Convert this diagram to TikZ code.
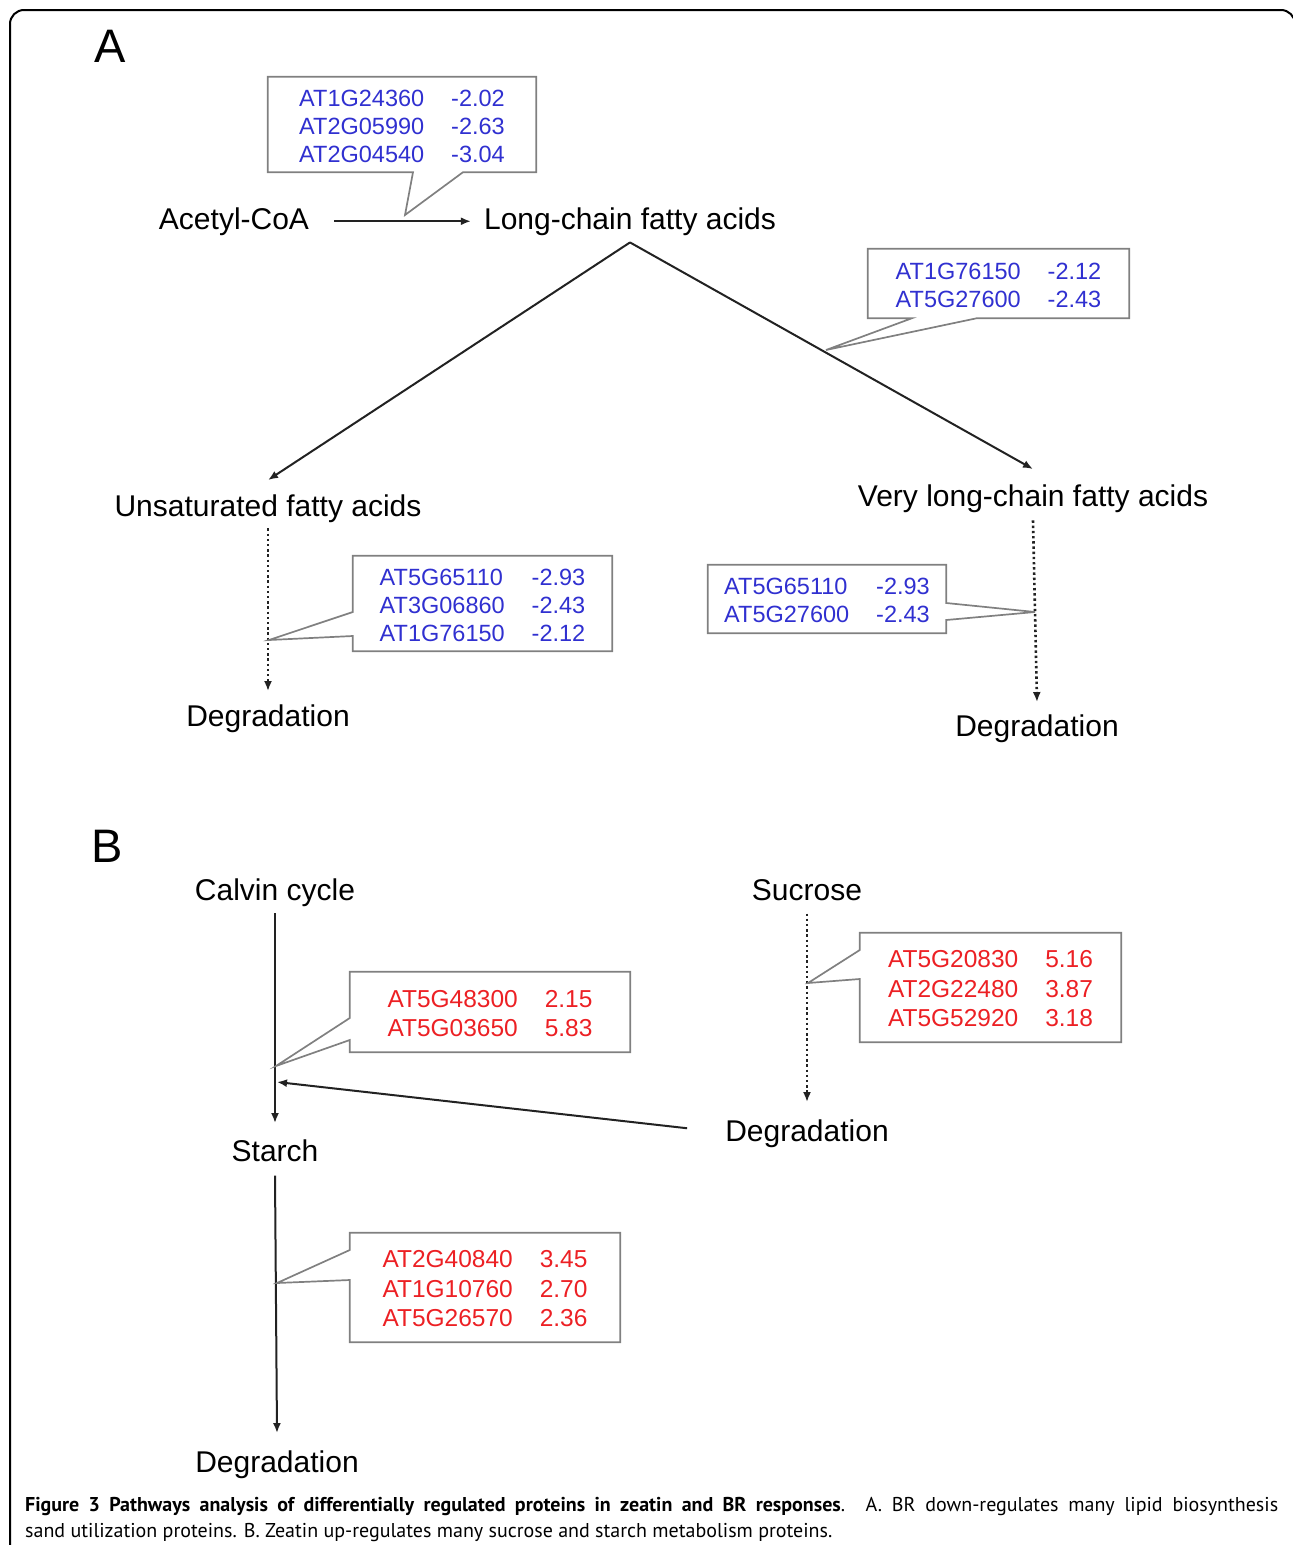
\documentclass[tikz,border=0pt]{standalone}
\usepackage{fontspec}
\setmainfont{Liberation Sans}
\newfontfamily\capfont{PT Sans}
\usepackage{xcolor}
\usetikzlibrary{arrows.meta,positioning}

\definecolor{downblue}{RGB}{48,48,208}
\definecolor{upred}{RGB}{236,32,36}
\definecolor{boxgray}{RGB}{128,128,128}
\definecolor{linegray}{RGB}{34,34,34}

\tikzset{
  metab/.style={inner sep=0pt, anchor=base, font=\fontsize{30}{36}\selectfont},
  panel/.style={inner sep=0pt, anchor=base, font=\fontsize{47}{50}\selectfont},
  genebox/.style={inner sep=0pt, anchor=center},
  downreg/.style={genebox, text=downblue, font=\fontsize{23.5}{28}\selectfont},
  upreg/.style={genebox, text=upred, font=\fontsize{24.5}{29.5}\selectfont},
  callout/.style={draw=boxgray, line width=1.7pt},
  flow/.style={draw=linegray, line width=2pt, -{Latex[length=10pt,width=8pt]}},
  dotflow/.style={flow, line width=2.6pt, dash pattern=on 2.4pt off 2.8pt},
}

\newcommand{\genes}[1]{\raisebox{0pt}[\height][\dimexpr\depth-8pt\relax]{\begin{tabular}{@{}l@{\hspace{27pt}}l@{}}#1\end{tabular}}}

\begin{document}
\begin{tikzpicture}[x=1pt,y=-1pt]
\useasboundingbox (0,0) rectangle (1293,1545);

% Frame
\draw[line width=2pt, rounded corners=14pt] (10,1560) -- (10,10) -- (1295,10) -- (1295,1560);

% Panel A: lipids
\node[panel] (panA) at (110,62) {A};
\node[metab] (acetyl) at (234,229) {Acetyl-CoA};
\node[metab] (lcfa) at (630,229) {Long-chain fatty acids};
\node[metab] (unsat) at (268,516) {Unsaturated fatty acids};
\node[metab] (vlcfa) at (1033,506) {Very long-chain fatty acids};
\node[metab] (degU) at (268,726) {Degradation};
\node[metab] (degV) at (1037,736) {Degradation};

\draw[flow] ([xshift=25pt]acetyl.east) -- ([xshift=-13pt]lcfa.west);
\draw[flow] ([yshift=-7pt]lcfa.south) -- ([yshift=14pt]unsat.north);
\draw[flow] ([yshift=-7pt]lcfa.south) -- ([yshift=15pt]vlcfa.north);
\draw[dotflow] ([yshift=-6pt]unsat.south) -- ([yshift=13pt]degU.north);
\draw[dotflow] ([yshift=-8pt]vlcfa.south) -- ([yshift=12pt]degV.north);

% Down-regulated genes
\node[downreg, minimum width=268, minimum height=95] (boxA1) at (402,124.5)
  {\genes{AT1G24360 & -2.02\\ AT2G05990 & -2.63\\ AT2G04540 & -3.04}};
\node[downreg, minimum width=261, minimum height=69] (boxA2) at (998.5,283.5)
  {\genes{AT1G76150 & -2.12\\ AT5G27600 & -2.43}};
\node[downreg, minimum width=259, minimum height=95] (boxA3) at (482.5,603.5)
  {\genes{AT5G65110 & -2.93\\ AT3G06860 & -2.43\\ AT1G76150 & -2.12}};
\node[downreg, minimum width=238, minimum height=68] (boxA4) at (827,599)
  {\genes{AT5G65110 & -2.93\\ AT5G27600 & -2.43}};

\coordinate (tipA1) at (405,215);
\coordinate (tipA2) at (826,350);
\coordinate (tipA3) at (269,640);
\coordinate (tipA4) at (1035,612);

\draw[callout] (boxA1.north west) -- (boxA1.north east) -- (boxA1.south east)
  -- (463,0 |- boxA1.south) -- (tipA1) -- (413,0 |- boxA1.south) -- (boxA1.south west) -- cycle;
\draw[callout] (boxA2.north west) -- (boxA2.north east) -- (boxA2.south east)
  -- (977,0 |- boxA2.south) -- (tipA2) -- (912,0 |- boxA2.south) -- (boxA2.south west) -- cycle;
\draw[callout] (boxA3.north west) -- (boxA3.north east) -- (boxA3.south east) -- (boxA3.south west)
  -- (boxA3.west |- 0,636) -- (tipA3) -- (boxA3.west |- 0,612) -- cycle;
\draw[callout] (boxA4.north west) -- (boxA4.north east) -- (boxA4.east |- 0,603)
  -- (tipA4) -- (boxA4.east |- 0,620) -- (boxA4.south east) -- (boxA4.south west) -- cycle;

% Panel B: sugars
\node[panel] (panB) at (107,862) {B};
\node[metab] (calvin) at (275,900) {Calvin cycle};
\node[metab] (starch) at (275,1161) {Starch};
\node[metab] (degB) at (277,1472) {Degradation};
\node[metab] (sucrose) at (807,900) {Sucrose};
\node[metab] (degS) at (807,1141) {Degradation};
\coordinate (joinB) at (277,1082);

\draw[flow] ([yshift=-7pt]calvin.south) -- ([yshift=16pt]starch.north);
\draw[flow] ([yshift=-14pt]starch.south) -- ([yshift=17pt]degB.north);
\draw[dotflow] ([yshift=-13pt]sucrose.south) -- ([yshift=17pt]degS.north);
\draw[flow] ([shift={(-38pt,5pt)}]degS.west) -- (joinB);

% Up-regulated genes
\node[upreg, minimum width=280, minimum height=80] (boxB1) at (490,1012)
  {\genes{AT5G48300 & 2.15\\ AT5G03650 & 5.83}};
\node[upreg, minimum width=261, minimum height=109] (boxB2) at (990.5,987.5)
  {\genes{AT5G20830 & 5.16\\ AT2G22480 & 3.87\\ AT5G52920 & 3.18}};
\node[upreg, minimum width=270, minimum height=109] (boxB3) at (485,1287.5)
  {\genes{AT2G40840 & 3.45\\ AT1G10760 & 2.70\\ AT5G26570 & 2.36}};

\coordinate (tipB1) at (276,1066);
\coordinate (tipB2) at (808,983);
\coordinate (tipB3) at (277,1283);

\draw[callout] (boxB1.north west) -- (boxB1.north east) -- (boxB1.south east) -- (boxB1.south west)
  -- (boxB1.west |- 0,1040) -- (tipB1) -- (boxB1.west |- 0,1018) -- cycle;
\draw[callout] (boxB2.north west) -- (boxB2.north east) -- (boxB2.south east) -- (boxB2.south west)
  -- (boxB2.west |- 0,979) -- (tipB2) -- (boxB2.west |- 0,950) -- cycle;
\draw[callout] (boxB3.north west) -- (boxB3.north east) -- (boxB3.south east) -- (boxB3.south west)
  -- (boxB3.west |- 0,1280) -- (tipB3) -- (boxB3.west |- 0,1250) -- cycle;

% Caption
\node[inner sep=0pt, anchor=base west] (capA) at (25,1511)
  {\capfont\fontsize{20}{25}\selectfont\makebox[1253pt][s]{\textbf{Figure 3 Pathways analysis of differentially regulated proteins in zeatin and BR responses}. A. BR down-regulates many lipid biosynthesis}};
\node[inner sep=0pt, anchor=base west] (capB) at (25,1537)
  {\capfont\fontsize{20}{25}\selectfont sand utilization proteins. B. Zeatin up-regulates many sucrose and starch metabolism proteins.};
\end{tikzpicture}
\end{document}
